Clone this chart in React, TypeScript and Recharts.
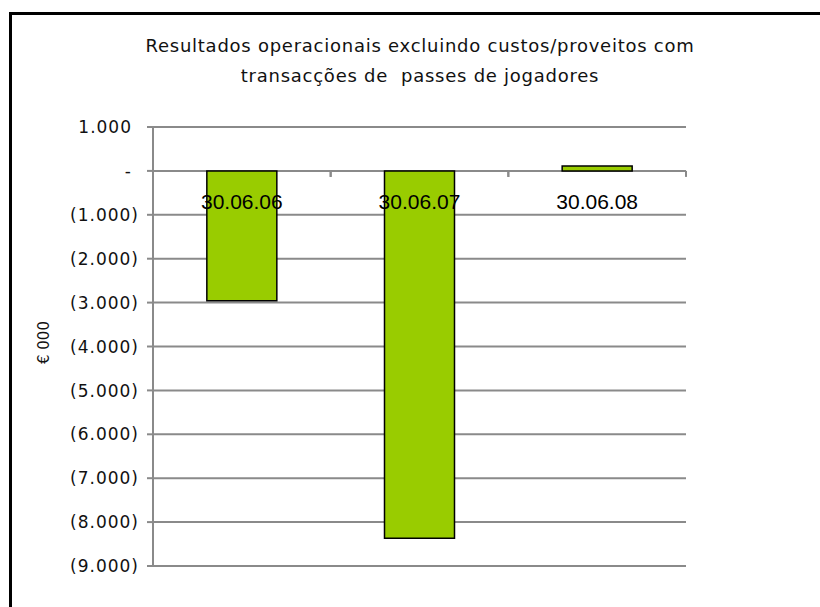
import { BarChart, Bar, YAxis, CartesianGrid, LabelList } from "recharts";

const categories = ["30.06.06", "30.06.07", "30.06.08"];
const values = [-2960, -8370, 110];
const yTicks = [1000, 0, -1000, -2000, -3000, -4000, -5000, -6000, -7000, -8000, -9000];

const data = categories.map((name, i) => ({ name, value: values[i] }));

const fmt = (v: number) => {
  if (v === 0) return "-";
  const s = Math.abs(v).toLocaleString("de-DE");
  return v < 0 ? `(${s})` : s;
};

const GRID = "#8a8a8a";

function YTick({ x, y, payload }: any) {
  const v = payload.value as number;
  return (
    <text x={x - (v >= 0 ? 13 : 6)} y={y} dy="0.36em" textAnchor="end"
      fontFamily="DejaVu Sans" fontSize={17} letterSpacing={1} fill="#111">
      {fmt(v)}
    </text>
  );
}

function CategoryLabel({ x, y, width, height, value, index }: any) {
  const zeroY = values[index] < 0 ? Math.min(y, y + height) : Math.max(y, y + height);
  const cx = x + width / 2;
  const band = width / 0.394;
  return (
    <g>
      <line x1={cx - band / 2} x2={cx - band / 2} y1={zeroY} y2={zeroY + 6} stroke={GRID} strokeWidth={2} />
      <line x1={cx + band / 2} x2={cx + band / 2} y1={zeroY} y2={zeroY + 6} stroke={GRID} strokeWidth={2} />
      <text x={cx} y={zeroY + 38} textAnchor="middle" fontFamily="Liberation Sans" fontSize={21} fill="#000">
        {value}
      </text>
    </g>
  );
}

function AxisTitle({ viewBox }: any) {
  const cx = viewBox.x - 9;
  const cy = viewBox.y + viewBox.height / 2 - 4;
  return (
    <text x={cx} y={cy} transform={`rotate(-90, ${cx}, ${cy})`} textAnchor="middle" dominantBaseline="central"
      fontFamily="DejaVu Sans" fontSize={15} fill="#111">
      € 000
    </text>
  );
}

export default function App() {
  return (
    <div style={{ position: "fixed", left: 0, top: 0, width: 820, height: 607, background: "#fff", overflow: "hidden" }}>
      <div style={{ position: "absolute", left: 9, top: 12, width: 900, height: 700, borderTop: "3px solid #000", borderLeft: "3px solid #000" }} />
      <div style={{
        position: "absolute", left: 0, width: 840, top: 31, textAlign: "center",
        fontFamily: "DejaVu Sans", fontSize: 18, letterSpacing: 0.75, lineHeight: "30px", color: "#111",
      }}>
        Resultados operacionais excluindo custos/proveitos com<br />transacções de&nbsp; passes de jogadores
      </div>
      <div style={{ position: "absolute", left: 0, top: 0 }}>
        <BarChart width={820} height={607} data={data} barCategoryGap="30.3%"
          margin={{ top: 127, right: 134, bottom: 41, left: 53 }}>
          <CartesianGrid vertical={false} stroke={GRID} strokeWidth={2} />
          <YAxis domain={[-9000, 1000]} ticks={yTicks} interval={0} width={100}
            axisLine={{ stroke: GRID, strokeWidth: 2 }} tickLine={{ stroke: GRID, strokeWidth: 2 }} tickSize={6}
            tick={<YTick />} label={<AxisTitle />} />
          <Bar dataKey="value" fill="#99cc00" stroke="#000" strokeWidth={1.5} isAnimationActive={false}>
            <LabelList dataKey="name" content={<CategoryLabel />} />
          </Bar>
        </BarChart>
      </div>
    </div>
  );
}
